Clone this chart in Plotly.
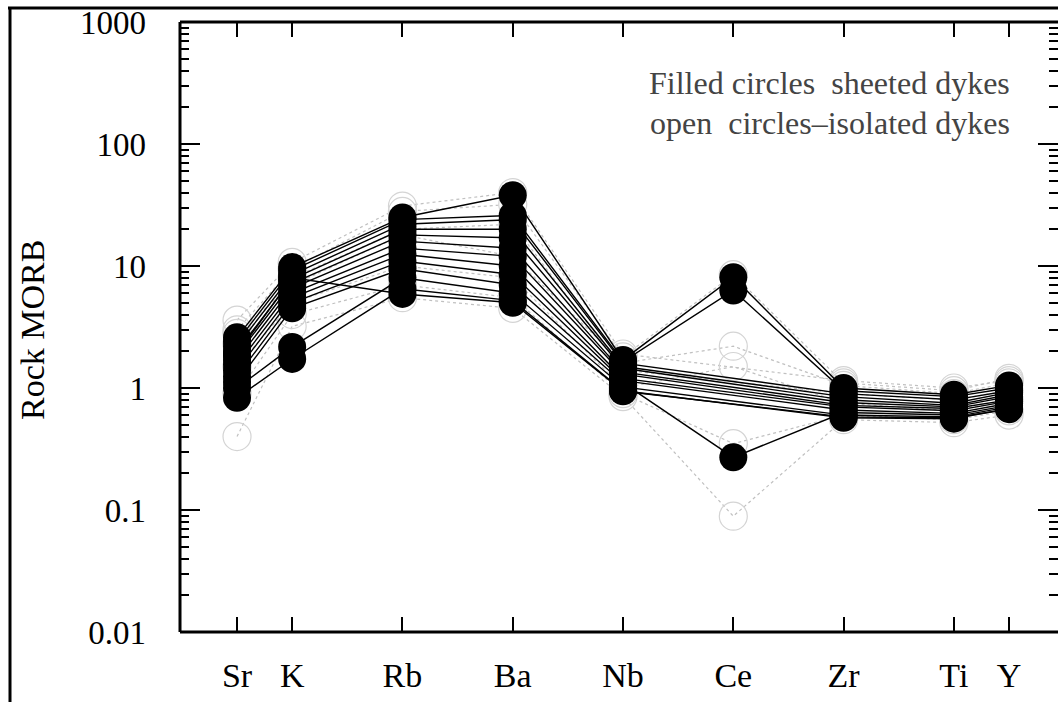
import plotly.graph_objects as go

# Element order and their positions along the spider-diagram x axis
elements = ["Sr", "K", "Rb", "Ba", "Nb", "Ce", "Zr", "Ti", "Y"]
element_x = [0, 0.5, 1.5, 2.5, 3.5, 4.5, 5.5, 6.5, 7.0]

# Sheeted dykes (filled circles), Rock/MORB values: Sr, K, Rb, Ba, Nb, Ce, Zr, Ti, Y
sheeted_1 = [2.6, 9.8, 25, 38, 1.7, 8.1, 1.0, 0.88, 1.05]
sheeted_2 = [2.4, 9.2, 24, 26, 1.65, 6.3, 0.95, 0.85, 1.0]
sheeted_3 = [2.2, 8.5, 22, 24, 1.6, None, 0.9, 0.8, 0.95]
sheeted_4 = [2.0, 7.8, 20, 20, 1.5, None, 0.85, 0.75, 0.92]
sheeted_5 = [1.85, 7.2, 18, 17, 1.45, None, 0.8, 0.72, 0.88]
sheeted_6 = [1.7, 6.6, 16, 14, 1.35, None, 0.76, 0.7, 0.85]
sheeted_7 = [1.55, 6.0, 14, 12, 1.3, None, 0.72, 0.68, 0.8]
sheeted_8 = [1.4, 5.5, 12.5, 10, 1.2, None, 0.7, 0.65, 0.78]
sheeted_9 = [1.25, 5.0, 11, 8.5, 1.15, None, 0.66, 0.62, 0.75]
sheeted_10 = [1.12, 4.5, 9.5, 7, 1.1, 0.27, 0.63, 0.6, 0.72]
sheeted_11 = [1.0, 2.17, 8, 6, 1.02, None, 0.6, 0.58, 0.7]
sheeted_12 = [0.83, 1.73, 6.5, 5.2, 0.95, None, 0.57, 0.56, 0.68]
sheeted_13 = [1.9, 8.0, 5.9, 5.0, 0.94, None, 0.58, 0.57, 0.67]
sheeted = [sheeted_1, sheeted_2, sheeted_3, sheeted_4, sheeted_5, sheeted_6, sheeted_7,
           sheeted_8, sheeted_9, sheeted_10, sheeted_11, sheeted_12, sheeted_13]

# Isolated dykes (open circles)
isolated_1 = [3.6, 10.7, 31, 40, 1.9, None, 1.15, 1.0, 1.15]
isolated_2 = [3.0, 9.5, 28, 32, 1.8, 8.5, 1.1, 0.95, 1.2]
isolated_3 = [2.8, 7.0, 18, 12, 1.6, 2.2, 1.05, 0.9, 1.1]
isolated_4 = [1.5, 5.0, 10, 8, 1.0, 1.5, 0.75, 0.65, 0.8]
isolated_5 = [0.4, 3.2, 5.5, 4.5, 0.85, 0.089, 0.55, 0.52, 0.6]
isolated_6 = [0.9, 4.0, 7, 5.5, 0.9, 0.35, 0.6, 0.55, 0.65]
isolated_7 = [2.3, 8.0, 20, 22, 1.4, None, 0.9, 0.8, 0.95]
isolated = [isolated_1, isolated_2, isolated_3, isolated_4, isolated_5, isolated_6, isolated_7]

y_tickvals = [0.01, 0.1, 1, 10, 100, 1000]
y_ticktext = ["0.01", "0.1", "1", "10", "100", "1000"]

FONT = "Liberation Serif"

fig = go.Figure()

for s in isolated:
    fig.add_trace(go.Scatter(
        x=element_x, y=s, mode="lines+markers", connectgaps=True,
        line=dict(color="#c0c0c0", width=1.2, dash="dot"),
        marker=dict(symbol="circle-open", size=28, color="#d4d4d4", line=dict(width=1.2)),
        showlegend=False, hoverinfo="skip"))

for s in sheeted:
    fig.add_trace(go.Scatter(
        x=element_x, y=s, mode="lines+markers", connectgaps=True,
        line=dict(color="black", width=1.4),
        marker=dict(symbol="circle", size=28, color="black"),
        showlegend=False, hoverinfo="skip"))

L, R, T, B = 180, 0, 22, 70
W, H = 1058, 702
pw, ph = W - L - R, H - T - B


def px(xp):
    return (xp - L) / pw


def py(yp):
    return (H - B - yp) / ph


fig.update_layout(
    width=W, height=H,
    margin=dict(l=L, r=R, t=T, b=B),
    paper_bgcolor="white", plot_bgcolor="white",
    font=dict(family=FONT, size=32, color="black"),
    xaxis=dict(
        range=[-0.517, 7.444], tickmode="array", tickvals=element_x, ticktext=elements,
        ticks="inside", ticklen=15, tickwidth=2, tickcolor="black",
        showline=False, mirror="ticks",
        showgrid=False, zeroline=False, ticklabelstandoff=20,
        tickfont=dict(family=FONT, size=34, color="black")),
    yaxis=dict(
        type="log", range=[-2, 3], tickmode="array", tickvals=y_tickvals, ticktext=y_ticktext,
        ticks="inside", ticklen=20, tickwidth=2, tickcolor="black",
        minor=dict(ticks="inside", ticklen=9, tickwidth=1.5, tickcolor="black", dtick="D1", showgrid=False),
        showline=False, mirror="ticks",
        showgrid=False, zeroline=False, ticklabelstandoff=33,
        tickfont=dict(family=FONT, size=33, color="black")),
    shapes=[
        # outer page frame
        dict(type="line", xref="paper", yref="paper", x0=px(8), x1=px(1058), y0=py(8), y1=py(8),
             line=dict(color="black", width=3)),
        dict(type="line", xref="paper", yref="paper", x0=px(10), x1=px(10), y0=py(8), y1=py(702),
             line=dict(color="black", width=3)),
        # plot frame (left, top, bottom)
        dict(type="line", xref="paper", yref="paper", x0=0, x1=0, y0=0, y1=1,
             line=dict(color="black", width=3)),
        dict(type="line", xref="paper", yref="paper", x0=0, x1=1, y0=1, y1=1,
             line=dict(color="black", width=3)),
        dict(type="line", xref="paper", yref="paper", x0=0, x1=1, y0=0, y1=0,
             line=dict(color="black", width=3)),
    ],
    annotations=[
        dict(text="Filled circles  sheeted dykes", xref="paper", yref="paper",
             x=px(1012), y=py(83), xanchor="right", yanchor="middle", showarrow=False,
             font=dict(family=FONT, size=32, color="#444444")),
        dict(text="open  circles\u2013isolated dykes", xref="paper", yref="paper",
             x=px(1012), y=py(123), xanchor="right", yanchor="middle", showarrow=False,
             font=dict(family=FONT, size=32, color="#444444")),
        dict(text="Rock MORB", xref="paper", yref="paper", x=px(33), y=py(330),
             xanchor="center", yanchor="middle", textangle=-90, showarrow=False,
             font=dict(family=FONT, size=34, color="black")),
    ],
)

fig.write_html("out.html")
